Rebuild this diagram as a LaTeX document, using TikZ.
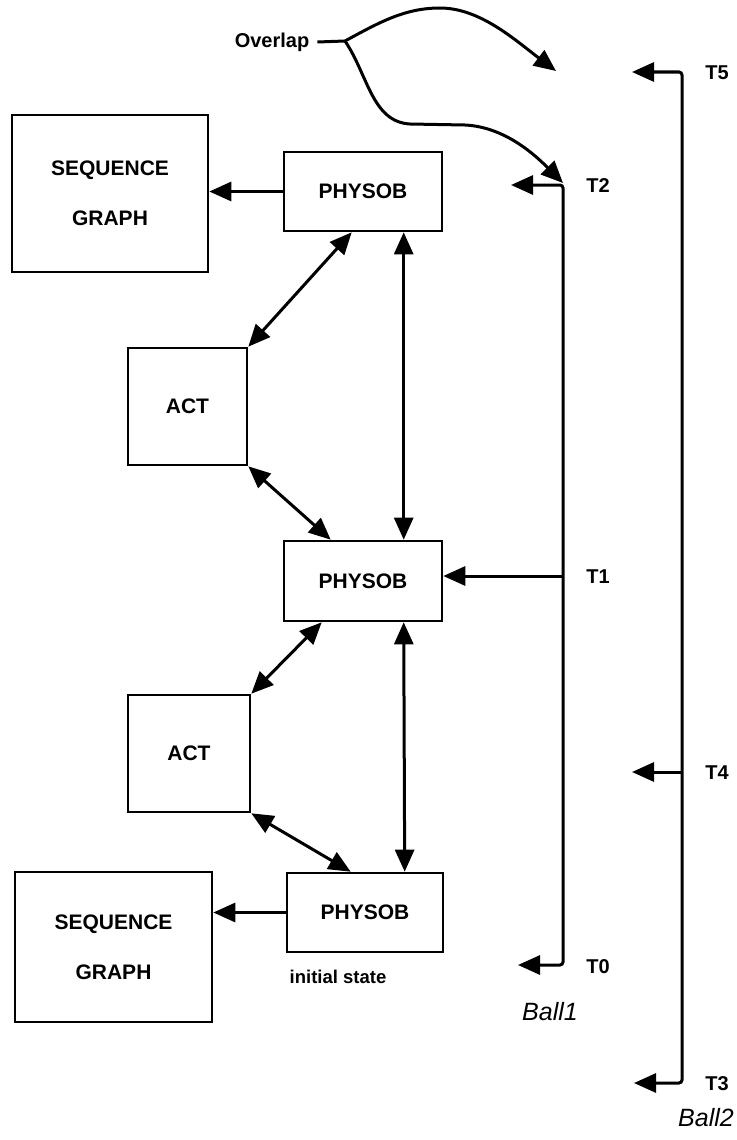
\documentclass[tikz,border=0pt]{standalone}
\usepackage{fontspec}
\setmainfont{Liberation Sans}
\usetikzlibrary{arrows.meta,calc}
\begin{document}
\begin{tikzpicture}[x=1pt,y=-1pt,
  box/.style={draw,line width=2.6pt,inner sep=0pt,font=\bfseries\fontsize{21}{50}\selectfont,align=center},
  lbl/.style={font=\bfseries\fontsize{20}{22}\selectfont,inner sep=0pt},
  hand/.style={font=\itshape\fontsize{25}{27}\selectfont,inner sep=0pt},
  conn/.style={line width=3pt},
  tip/.style={-{Triangle[length=22pt,width=19pt]}},
  dtip/.style={{Triangle[length=22pt,width=19pt]}-{Triangle[length=22pt,width=19pt]}}
]
\useasboundingbox (0,0) rectangle (736,1140);
% boxes
\node[box,minimum width=196pt,minimum height=157pt] (sg1) at (110,193.5) {SEQUENCE\\GRAPH};
\node[box,minimum width=158pt,minimum height=79pt] (ph1) at (363,191.5) {PHYSOB};
\node[box,minimum width=119pt,minimum height=117pt] (act1) at (187.5,406.5) {ACT};
\node[box,minimum width=158pt,minimum height=80pt] (ph2) at (363,581) {PHYSOB};
\node[box,minimum width=122pt,minimum height=117pt] (act2) at (189,753.5) {ACT};
\node[box,minimum width=197pt,minimum height=150pt] (sg2) at (113.5,947) {SEQUENCE\\GRAPH};
\node[box,minimum width=156pt,minimum height=79pt] (ph3) at (365,912.5) {PHYSOB};
\node[lbl,font=\bfseries\fontsize{18.5}{20}\selectfont] (init) at (338,977) {initial state};
% left arrows
\draw[conn,tip] (ph1.west) -- (ph1.west -| sg1.east);
\draw[conn,tip] (ph3.west) -- (ph3.west -| sg2.east);
% diagonals and verticals
\draw[conn,dtip] ($(ph1.south west)+(69,0)$) -- (act1.north east);
\draw[conn,dtip] ($(ph1.south west)+(121,0)$) -- ($(ph2.north west)+(121,0)$);
\draw[conn,dtip] (act1.south east) -- ($(ph2.north west)+(48,0)$);
\draw[conn,dtip] ($(ph2.south west)+(39,0)$) -- (act2.north east);
\draw[conn,dtip] ($(ph2.south west)+(121,0)$) -- ($(ph3.north west)+(119,0)$);
\draw[conn,dtip] (act2.south east) -- ($(ph3.north west)+(65,0)$);
% Ball 1 timeline
\coordinate (b1top) at (563,183);
\coordinate (b1mid) at (563,576);
\coordinate (b1bot) at (563,965);
\coordinate (t2tip) at (511,185);
\coordinate (t0tip) at (518,965);
\draw[conn,dtip,rounded corners=3pt] (t2tip) -- (t2tip -| b1top) -- (b1bot) -- (t0tip);
\draw[conn,tip] (b1mid) -- (ph2.east |- b1mid);
\node[lbl] (T2) at (598,186) {T2};
\node[lbl] (T1) at (598,577) {T1};
\node[lbl] (T0) at (598,967) {T0};
\node[hand] (ball1) at (550,1012) {Ball1};
% Ball 2 timeline
\coordinate (b2top) at (682,72);
\coordinate (b2mid) at (682,772);
\coordinate (b2bot) at (682,1083);
\coordinate (t5tip) at (632,72);
\coordinate (t4tip) at (632,772);
\coordinate (t3tip) at (634,1083);
\draw[conn,dtip,rounded corners=3pt] (t5tip) -- (b2top) -- (b2bot) -- (t3tip);
\draw[conn,tip] (b2mid) -- (t4tip);
\node[lbl] (T5) at (717,73) {T5};
\node[lbl] (T4) at (717,773) {T4};
\node[lbl] (T3) at (717,1084) {T3};
\node[hand] (ball2) at (706,1118) {Ball2};
% Overlap
\node[lbl] (ov) at (272,42) {Overlap};
\coordinate (ovj) at (345,41);
\coordinate (ovtip) at (556,71);
\draw[conn] ($(ov.east)+(8,0)$) -- (ovj);
\draw[conn,tip] (ovj) .. controls (380,22) and (405,8) .. (440,8) .. controls (480,8) and (515,40) .. (ovtip);
\draw[conn,tip] (ovj) .. controls (368,75) and (372,122) .. (410,124) -- (465,125) .. controls (505,127) and (535,155) .. (b1top);
\end{tikzpicture}
\end{document}
